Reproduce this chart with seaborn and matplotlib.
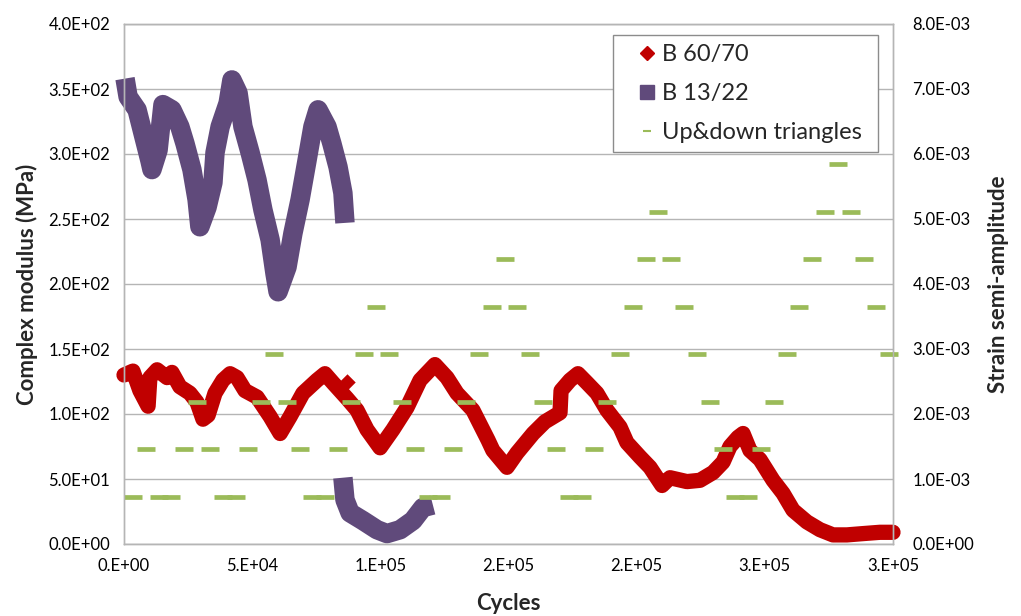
import matplotlib
matplotlib.use("Agg")
import numpy as np
import pandas as pd
import matplotlib.pyplot as plt
from matplotlib.lines import Line2D
import seaborn as sns

# --- data ---
red_cycles = [0, 3500, 6200, 9400, 10100, 12900, 16800, 18700, 21800, 25700,
              28500, 30800, 32800, 35500, 38600, 41400, 44100, 47200, 51900, 57000,
              60900, 64800, 69800, 75300, 78400, 81500, 87000, 90900, 94800, 99900,
              104900, 110400, 115500, 121300, 126000, 129900, 136100, 142000, 143900, 149400,
              153300, 159600, 164200, 170100, 170500, 174000, 177100, 180600, 184500, 188400,
              193500, 196200, 201300, 205200, 209900, 213000, 219600, 224700, 229800, 233700,
              236400, 239500, 241500, 244200, 248100, 253200, 257100, 261000, 266400, 271500,
              276600, 282000, 288300, 294900, 300000]
red_modulus = [130, 133, 118, 106, 128, 134, 128, 132, 121, 116,
               109, 96, 99, 116, 126, 131, 128, 118, 113, 98,
               85, 98, 116, 126, 131, 124, 112, 103, 88, 74,
               88, 105, 126, 138, 128, 116, 103, 80, 72, 59,
               70, 85, 94, 101, 118, 126, 131, 124, 116, 103,
               90, 78, 67, 59, 45, 51, 48, 49, 55, 63,
               75, 82, 85, 72, 65, 49, 39, 26, 17, 11,
               7, 7, 8, 9, 9]
red_outlier_cycles = [87000]
red_outlier_modulus = [125]

# B 13/22, first run (high modulus)
purple1_cycles = [400, 1600, 5100, 7400, 10100, 10900, 13300, 15200, 18700, 21800,
                  23800, 26500, 28500, 29600, 32400, 34700, 35500, 37500, 40600, 42100,
                  44500, 46400, 49200, 51900, 54200, 57000, 58900, 60100, 63600, 65900,
                  68700, 71400, 73700, 75700, 79200, 81100, 83500, 85400, 86200]
purple1_modulus = [358, 344, 334, 316, 295, 288, 303, 338, 334, 321,
                   308, 288, 265, 244, 259, 278, 301, 321, 339, 357,
                   347, 321, 301, 280, 257, 234, 208, 194, 213, 239,
                   265, 295, 321, 334, 321, 308, 290, 270, 247]
# B 13/22, second run (low modulus)
purple2_cycles = [85400, 86200, 88200, 93200, 98700, 102600, 107700, 112700, 116600, 120500]
purple2_modulus = [51, 34, 24, 18, 11, 8, 11, 18, 28, 30]

# Up&down triangles: one strain step every 5000 cycles (x1e-3)
strain_cycles = [3500, 8500, 13500, 18500, 23500, 28500, 33500, 38500, 43500, 48500,
                 53500, 58500, 63500, 68500, 73500, 78500, 83500, 88500, 93500, 98500,
                 103500, 108500, 113500, 118500, 123500, 128500, 133500, 138500, 143500, 148500,
                 153500, 158500, 163500, 168500, 173500, 178500, 183500, 188500, 193500, 198500,
                 203500, 208500, 213500, 218500, 223500, 228500, 233500, 238500, 243500, 248500,
                 253500, 258500, 263500, 268500, 273500, 278500, 283500, 288500, 293500, 298500]
strain_e3 = [0.73, 1.46, 0.73, 0.73, 1.46, 2.19, 1.46, 0.73, 0.73, 1.46,
             2.19, 2.92, 2.19, 1.46, 0.73, 0.73, 1.46, 2.19, 2.92, 3.65,
             2.92, 2.19, 1.46, 0.73, 0.73, 1.46, 2.19, 2.92, 3.65, 4.38,
             3.65, 2.92, 2.19, 1.46, 0.73, 0.73, 1.46, 2.19, 2.92, 3.65,
             4.38, 5.11, 4.38, 3.65, 2.92, 2.19, 1.46, 0.73, 0.73, 1.46,
             2.19, 2.92, 3.65, 4.38, 5.11, 5.84, 5.11, 4.38, 3.65, 2.92]

x_ticks = [0, 50000, 100000, 150000, 200000, 250000, 300000]
x_tick_labels = ["0.E+00", "5.E+04", "1.E+05", "2.E+05", "2.E+05", "3.E+05", "3.E+05"]
left_ticks = [0, 50, 100, 150, 200, 250, 300, 350, 400]
right_ticks = [0, 0.001, 0.002, 0.003, 0.004, 0.005, 0.006, 0.007, 0.008]

RED = "#C00000"
PURPLE = "#604A7B"
GREEN = "#9BBB59"
GRID = "#b5b5b5"

red_df = pd.DataFrame({"cycles": red_cycles, "modulus": red_modulus})
purple_df = pd.DataFrame({
    "cycles": purple1_cycles + purple2_cycles,
    "modulus": purple1_modulus + purple2_modulus,
    "run": [1] * len(purple1_cycles) + [2] * len(purple2_cycles),
})
strain_df = pd.DataFrame({"cycles": strain_cycles, "strain": np.array(strain_e3) * 1e-3})

sns.set_style("white")
plt.rcParams["font.family"] = ["Lato", "DejaVu Sans"]

fig = plt.figure(figsize=(10.21, 6.16), dpi=100)
ax = fig.add_axes([124 / 1021, 72 / 616, 769 / 1021, 520 / 616])

sns.lineplot(data=purple_df, x="cycles", y="modulus", units="run", estimator=None, sort=False,
             color=PURPLE, linewidth=14, solid_capstyle="butt", solid_joinstyle="round",
             ax=ax, legend=False, clip_on=False)
sns.lineplot(data=red_df, x="cycles", y="modulus", estimator=None, sort=False,
             color=RED, linewidth=11, solid_capstyle="round", solid_joinstyle="round",
             ax=ax, legend=False, clip_on=False)
sns.scatterplot(x=red_outlier_cycles, y=red_outlier_modulus, marker="D", s=70,
                color=RED, linewidth=0, ax=ax, legend=False)

ax.set_xlim(0, 300000)
ax.set_ylim(0, 400)
ax.set_xticks(x_ticks)
ax.set_xticklabels(x_tick_labels)
ax.set_yticks(left_ticks)
ax.set_yticklabels(["{:.1E}".format(v) for v in left_ticks])
ax.yaxis.grid(True, color=GRID, linewidth=1)
ax.xaxis.grid(False)
ax.set_axisbelow(True)
ax.tick_params(axis="both", length=0, labelsize=12, colors="black")
ax.tick_params(axis="x", pad=10)
ax.tick_params(axis="y", pad=10)
for s in ax.spines.values():
    s.set_color(GRID)
    s.set_linewidth(1)

ax.set_xlabel("Cycles", fontsize=16, fontweight="bold")
ax.xaxis.label.set_va("center")
ax.xaxis.set_label_coords(0.5, (544 - 603) / 520)
ax.set_ylabel("Complex modulus (MPa)", fontsize=16, fontweight="bold")
ax.yaxis.label.set_va("center")
ax.yaxis.set_label_coords((27 - 124) / 769, 0.5)

ax2 = ax.twinx()
sns.scatterplot(data=strain_df, x="cycles", y="strain", marker="_", s=150,
                linewidth=3.4, color=GREEN, ax=ax2, legend=False, clip_on=False)
ax2.set_ylim(0, 0.008)
ax2.set_xlim(0, 300000)
ax2.set_yticks(right_ticks)
ax2.set_yticklabels(["{:.1E}".format(v) for v in right_ticks])
ax2.tick_params(axis="y", length=0, labelsize=12, pad=14, colors="black")
ax2.grid(False)
for s in ax2.spines.values():
    s.set_color(GRID)
    s.set_linewidth(1)
ax2.set_ylabel("Strain semi-amplitude", fontsize=16, fontweight="bold")
ax2.yaxis.label.set_va("center")
ax2.yaxis.set_label_coords((998 - 124) / 769, 0.5)

handles = [
    Line2D([], [], marker="D", color=RED, linestyle="None", markersize=7),
    Line2D([], [], marker="s", color=PURPLE, linestyle="None", markersize=10),
    Line2D([], [], marker="_", color=GREEN, linestyle="None", markersize=6, markeredgewidth=1.5),
]
labels = ["B 60/70", "B 13/22", "Up&down triangles"]
leg_h = (155 - 35) / 520
ax2.legend(handles, labels, loc="upper left",
           bbox_to_anchor=((613 - 124) / 769, (544 - 35) / 520 - leg_h, (878 - 613) / 769, leg_h),
           mode="expand", borderaxespad=0, frameon=True, fancybox=False, framealpha=1,
           edgecolor="#8c8c8c", fontsize=17, borderpad=0.38, labelspacing=0.76,
           handlelength=2.1, handletextpad=-0.4)

fig.savefig("out.png", dpi=100)
